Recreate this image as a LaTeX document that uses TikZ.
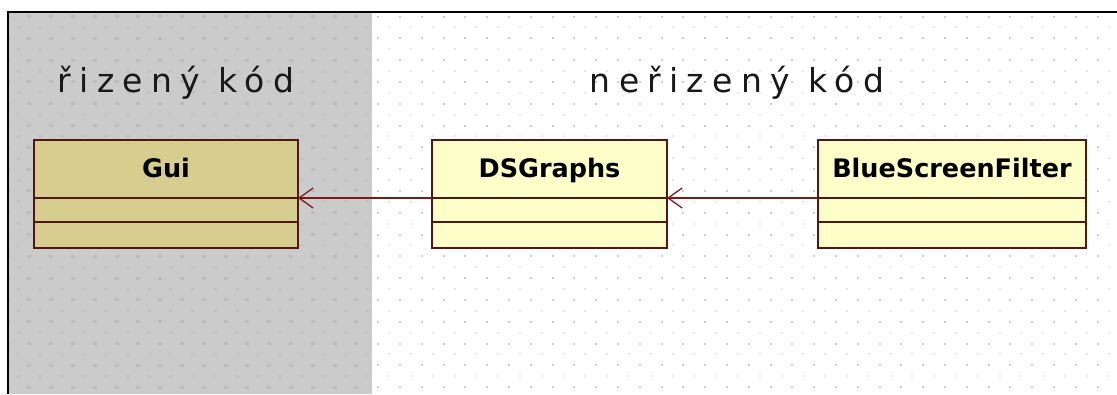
\documentclass[tikz,border=0pt]{standalone}
\usepackage{fontspec}
\setmainfont{DejaVu Sans}
\newfontfamily\regionfont[LetterSpace=25]{DejaVu Sans}
\usetikzlibrary{arrows.meta,calc}
\definecolor{greybg}{RGB}{203,203,203}
\definecolor{dotwhiteA}{RGB}{205,205,205}
\definecolor{dotwhiteB}{RGB}{232,232,232}
\definecolor{dotgreyA}{RGB}{188,188,188}
\definecolor{dotgreyB}{RGB}{197,197,197}
\definecolor{boxborder}{RGB}{80,24,18}
\definecolor{connred}{RGB}{122,28,28}
\definecolor{guifill}{RGB}{214,205,142}
\definecolor{classfill}{RGB}{255,255,202}
\tikzset{
  classbox/.style={draw=boxborder, line width=2.2pt, minimum height=108pt, inner sep=0pt, outer sep=0pt},
  classname/.style={font=\fontsize{25.5}{25.5}\selectfont\bfseries, text=black, inner sep=0pt, anchor=base},
  comp/.style={draw=boxborder, line width=2.2pt},
  conn/.style={draw=connred, line width=1.6pt, -{Straight Barb[length=14pt,width=20pt,line width=1.3pt]}},
  region/.style={font=\regionfont\fontsize{33}{33}\selectfont, text=black!90, inner sep=0pt, anchor=base},
}
\begin{document}
\begin{tikzpicture}[x=1pt,y=-1pt]
\useasboundingbox (0,0) rectangle (1117,394);
\fill[white] (0,0) rectangle (1117,394);
\fill[greybg] (8,12) rectangle (372,394);
% dots, white region
\begin{scope}
\clip (372,13) rectangle (1117,394);
\foreach \i in {0,...,51} \foreach \j in {0,...,18}
  {\fill[dotwhiteA] ({7.6+21.8*\i-1},{16.5+21.8*\j-1}) rectangle ++(2,2);
   \fill[dotwhiteB] ({18.5+21.8*\i-1},{27.4+21.8*\j-1}) rectangle ++(2,2);}
\end{scope}
% dots, grey region
\begin{scope}
\clip (9,13) rectangle (372,394);
\foreach \i in {0,...,17} \foreach \j in {0,...,18}
  {\fill[dotgreyA] ({7.6+21.8*\i-2},{16.5+21.8*\j-1.5}) rectangle ++(4,3);
   \fill[dotgreyB] ({18.5+21.8*\i-2},{27.4+21.8*\j-1.5}) rectangle ++(4,3);}
\end{scope}
% frame
\draw[black, line width=2.5pt] (8,12) -- (1117,12);
\draw[black, line width=2.5pt] (8,11) -- (8,394);
% region labels
\node[region] (managed) at (176,92) {řizený kód};
\node[region] (unmanaged) at (737,92) {neřizený kód};
% classes
\node[classbox, fill=guifill, minimum width=264pt] (gui) at (166,194) {};
\node[classbox, fill=classfill, minimum width=235pt] (ds) at (549.5,194) {};
\node[classbox, fill=classfill, minimum width=268pt] (bsf) at (952,194) {};
\foreach \c/\t in {gui/Gui, ds/DSGraphs, bsf/BlueScreenFilter}{
  \node[classname] (\c-name) at ($(\c.north)+(0,-37pt)$) {\t};
  \draw[comp] ([yshift=-58pt]\c.north west) -- ([yshift=-58pt]\c.north east);
  \draw[comp] ([yshift=-82pt]\c.north west) -- ([yshift=-82pt]\c.north east);
}
% connectors
\draw[conn] ([yshift=-58pt]ds.north west) -- ([yshift=-58pt]gui.north east);
\draw[conn] ([yshift=-58pt]bsf.north west) -- ([yshift=-58pt]ds.north east);
\end{tikzpicture}
\end{document}
